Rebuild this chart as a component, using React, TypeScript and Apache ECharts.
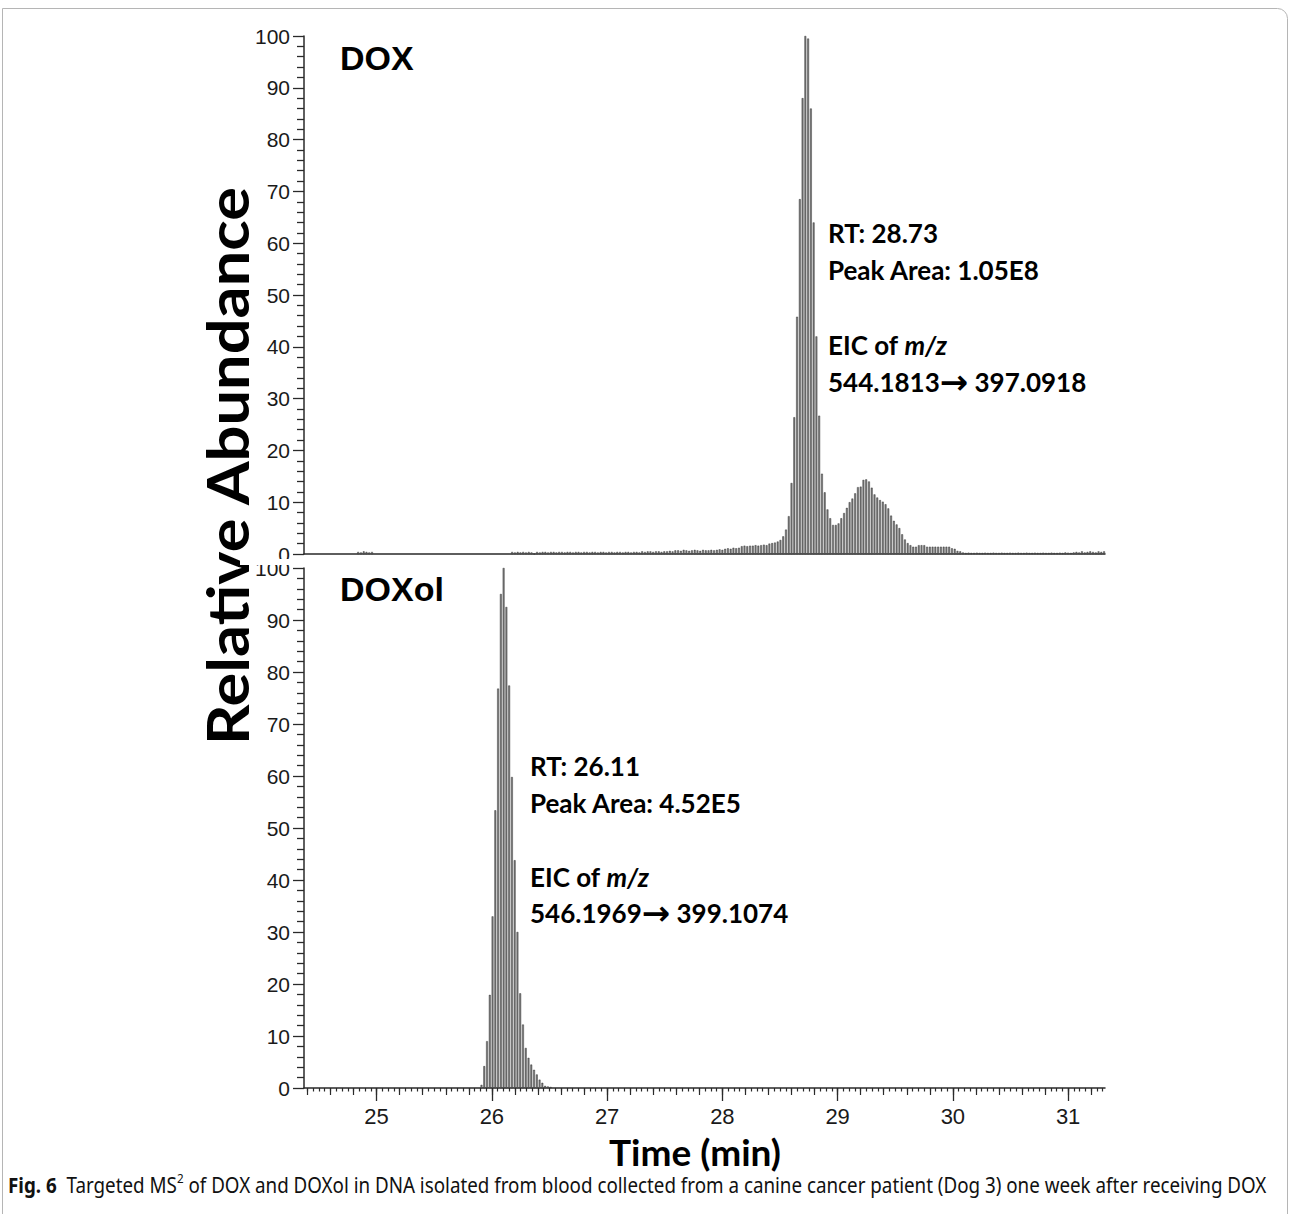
import React, { useEffect, useRef } from "react";
import * as echarts from "echarts";

// Scan interval of the chromatogram (min)
const SCAN_STEP = 0.024;

// DOX panel (top): small early cluster and main trace
const doxPreStart = 24.84;
const doxPreValues = [0.4, 0.3, 0.5, 0.4, 0.3, 0.4];
const doxStart = 26.176;
const doxValues = [
  0.4, 0.3, 0.4, 0.3, 0.4, 0.3, 0.4, 0.3,
  0,
  0.4, 0.3, 0.4, 0.4, 0.3, 0.4, 0.4, 0.3, 0.4, 0.4,
  0.3, 0.4, 0.4, 0.3, 0.4, 0.4, 0.3, 0.4, 0.4, 0.3,
  0.4, 0.4, 0.3, 0.4, 0.4, 0.3, 0.4, 0.4, 0.3, 0.4,
  0.4, 0.3, 0.4, 0.4, 0.3, 0.4, 0.4, 0.3,
  0.5, 0.4, 0.5, 0.5, 0.4, 0.5, 0.5, 0.4, 0.5, 0.5, 0.6, 0.5,
  0.7, 0.7, 0.6, 0.8, 0.7, 0.6, 0.7, 0.8, 0.7, 0.6, 0.8, 0.7, 0.7, 0.8, 0.7, 0.8, 0.9, 0.8,
  1.0, 1.1, 1.0, 1.2, 1.1, 1.2,
  1.5, 1.6, 1.5, 1.6, 1.6, 1.7, 1.6, 1.7, 1.8, 1.7,
  2.0, 2.1, 2.2, 2.4, 2.7,
  3.4, 4.7, 7.3, 13.7, 26.4, 45.8, 68.5, 88, 100, 99.5,
  86, 64, 42, 26.7, 15.5, 11.9, 8.6, 6.9, 5.6, 5.6,
  5.9, 6.9, 7.9, 8.9, 10, 10.7, 11.7, 12.9, 13, 14.3,
  14.4, 14, 12.8, 11.5, 10.9, 10.4, 10.1, 9.6, 8.8, 7.4,
  6.4, 5.7, 5, 3.8, 2.8, 2.1, 1.7, 1.4, 1.4, 1.7,
  1.7, 1.7, 1.4, 1.4, 1.4, 1.4, 1.4, 1.4, 1.4, 1.4,
  1.4, 1.1, 1.0, 0.6, 0.5, 0.3,
  0.2, 0.25, 0.2, 0.2, 0.25, 0.2, 0.2, 0.25, 0.2, 0.2,
  0.25, 0.2, 0.2, 0.25, 0.2, 0.2, 0.25, 0.2, 0.2, 0.25,
  0.2, 0.2, 0.25, 0.2, 0.2, 0.25, 0.2, 0.2, 0.25, 0.2,
  0.2, 0.25, 0.2, 0.2, 0.25, 0.2, 0.3, 0.25, 0.2, 0.3,
  0.4, 0.3, 0.5, 0.3, 0.4, 0.5, 0.4, 0.3, 0.5, 0.4, 0.5,
];

// DOXol panel (bottom)
const doxolStart = 25.91;
const doxolValues = [
  0.6, 4.2, 9, 17.9, 33, 53.4, 76.8, 95, 100, 92.5,
  77.4, 59.8, 43.8, 30, 18.2, 12.2, 7.7, 5.8, 4.5, 3.5,
  2.6, 1.6, 1.0, 0.4, 0.3, 0.2,
];

const xMin = 24.37;
const xMax = 31.32;
const xMajorTicks = [25, 26, 27, 28, 29, 30, 31];
const yMin = 0;
const yMax = 100;
const yInterval = 10;

const doxAnnotation = ["RT: 28.73", "Peak Area: 1.05E8", "EIC of {i|m/z}", "544.1813{a|→} 397.0918"];
const doxolAnnotation = ["RT: 26.11", "Peak Area: 4.52E5", "EIC of {i|m/z}", "546.1969{a|→} 399.1074"];

const r3 = (v: number) => Math.round(v * 1000) / 1000;
const toPoints = (start: number, vals: number[]) => vals.map((v, i) => [r3(start + i * SCAN_STEP), v]);

function tickRange(from: number, to: number, step: number) {
  const out: number[] = [];
  const n = Math.round((to - from) / step);
  for (let i = 0; i <= n; i++) out.push(r3(from + i * step));
  return out;
}
const xMediumTicks = tickRange(24.4, 31.2, 0.2);
const xMinorTicks = tickRange(24.4, 31.3, 0.05);

const AXIS_COLOR = "#2a2a2a";
const LABEL_FONT = "Liberation Sans";
const ANNOT_FONT = "Lato";

export default function App() {
  const ref = useRef<HTMLDivElement>(null);
  useEffect(() => {
    document.body.style.margin = "0";
    if (!ref.current) return;
    const chart = echarts.init(ref.current, undefined, { renderer: "svg" });

    const yAxisBase = (gridIndex: number) => ({
      type: "value",
      gridIndex,
      position: "left",
      min: yMin,
      max: yMax,
      interval: yInterval,
      axisLine: { show: true, onZero: false, lineStyle: { color: AXIS_COLOR, width: 1.5 } },
      axisTick: { show: true, length: 11, lineStyle: { color: AXIS_COLOR, width: 1.3 } },
      minorTick: { show: true, splitNumber: 5, length: 7, lineStyle: { color: AXIS_COLOR, width: 1.3 } },
      axisLabel: { fontSize: 21, lineHeight: 13, fontFamily: LABEL_FONT, color: "#1a1a1a", margin: 14 },
      splitLine: { show: false },
      minorSplitLine: { show: false },
    });

    const xHidden = (gridIndex: number, ticks: number[], len: number) => ({
      type: "value",
      gridIndex,
      position: "bottom",
      offset: 0,
      min: xMin,
      max: xMax,
      axisLine: { show: false, onZero: false },
      axisTick: { show: true, length: len, customValues: ticks, lineStyle: { color: AXIS_COLOR, width: 1.2 } },
      axisLabel: { show: false },
      splitLine: { show: false },
    });

    const annotGraphics = (lines: string[], x: number, ys: number[]) =>
      lines.map((t, k) => ({
        type: "text",
        x,
        y: ys[k],
        z: 10,
        style: {
          text: t,
          fontSize: 26,
          fontFamily: ANNOT_FONT,
          fontWeight: "bold",
          fill: "#000",
          verticalAlign: "middle",
          textVerticalAlign: "middle",
          rich: {
            i: { fontSize: 26, fontFamily: ANNOT_FONT, fontWeight: "bold", fontStyle: "italic", fill: "#000" },
            a: { fontSize: 34, fontFamily: "DejaVu Sans", fontWeight: "bold", fill: "#000" },
          },
        },
      }));

    const option: any = {
      animation: false,
      backgroundColor: "#fff",
      grid: [
        { left: 304, top: 36, width: 801, height: 518 },
        { left: 304, top: 568, width: 801, height: 520 },
      ],
      xAxis: [
        {
          type: "value",
          gridIndex: 0,
          position: "bottom",
          min: xMin,
          max: xMax,
          axisLine: { show: true, onZero: false, lineStyle: { color: AXIS_COLOR, width: 1.5 } },
          axisTick: { show: false },
          axisLabel: { show: false },
          splitLine: { show: false },
        },
        {
          type: "value",
          gridIndex: 1,
          position: "bottom",
          min: xMin,
          max: xMax,
          axisLine: { show: true, onZero: false, lineStyle: { color: AXIS_COLOR, width: 1.5 } },
          axisTick: { show: true, length: 13, customValues: xMajorTicks, lineStyle: { color: AXIS_COLOR, width: 1.3 } },
          axisLabel: {
            customValues: xMajorTicks,
            fontSize: 22,
            lineHeight: 18,
            fontFamily: LABEL_FONT,
            color: "#1a1a1a",
            margin: 19,
          },
          splitLine: { show: false },
        },
        xHidden(1, xMediumTicks, 7),
        xHidden(1, xMinorTicks, 3.5),
      ],
      yAxis: [yAxisBase(0), yAxisBase(1)],
      series: [
        {
          type: "bar",
          xAxisIndex: 0,
          yAxisIndex: 0,
          barWidth: 1.8,
          data: [...toPoints(doxPreStart, doxPreValues), ...toPoints(doxStart, doxValues)],
          itemStyle: { color: "#7c7c7c", borderColor: "#222", borderWidth: 0.4 },
        },
        {
          type: "bar",
          xAxisIndex: 1,
          yAxisIndex: 1,
          barWidth: 1.8,
          data: toPoints(doxolStart, doxolValues),
          itemStyle: { color: "#7c7c7c", borderColor: "#222", borderWidth: 0.4 },
        },
      ],
      graphic: [
        {
          type: "rect",
          z: -1,
          shape: { x: 2.5, y: 8.5, width: 1285, height: 1300, r: [0, 10, 0, 0] },
          style: { fill: "none", stroke: "#b5b5b5", lineWidth: 1 },
        },
        {
          type: "rect",
          z: 20,
          shape: { x: 240, y: 559, width: 58, height: 6 },
          style: { fill: "#fff" },
        },
        {
          type: "text",
          x: 340,
          y: 58,
          style: { text: "DOX", fontSize: 34, fontFamily: LABEL_FONT, fontWeight: "bold", fill: "#000", verticalAlign: "middle", textVerticalAlign: "middle" },
        },
        {
          type: "text",
          x: 340,
          y: 589,
          style: { text: "DOXol", fontSize: 34, fontFamily: LABEL_FONT, fontWeight: "bold", fill: "#000", verticalAlign: "middle", textVerticalAlign: "middle" },
        },
        ...annotGraphics(doxAnnotation, 828, [233, 270, 345, 382]),
        ...annotGraphics(doxolAnnotation, 530, [766, 803, 877, 913]),
        {
          type: "text",
          x: 227,
          y: 466,
          rotation: Math.PI / 2,
          scaleX: 1.09,
          style: {
            text: "Relative Abundance",
            fontSize: 58,
            fontFamily: ANNOT_FONT,
            fontWeight: "bold",
            fill: "#000",
            align: "center",
            textAlign: "center",
            verticalAlign: "middle",
            textVerticalAlign: "middle",
          },
        },
        {
          type: "text",
          x: 695,
          y: 1151,
          style: {
            text: "Time (min)",
            fontSize: 37,
            lineHeight: 32,
            fontFamily: ANNOT_FONT,
            fontWeight: "bold",
            fill: "#000",
            align: "center",
            textAlign: "center",
            verticalAlign: "middle",
            textVerticalAlign: "middle",
          },
        },
        {
          type: "text",
          x: 8,
          y: 1185,
          scaleX: 0.895,
          style: {
            text: "{b|Fig. 6}  Targeted MS{s|2} of DOX and DOXol in DNA isolated from blood collected from a canine cancer patient (Dog 3) one week after receiving DOX",
            fontSize: 21,
            fontFamily: "Noto Sans",
            fill: "#111",
            verticalAlign: "middle",
            textVerticalAlign: "middle",
            rich: {
              b: { fontSize: 21, fontFamily: "Noto Sans", fontWeight: "bold", fill: "#111", lineHeight: 26 },
              s: { fontSize: 13, fontFamily: "Noto Sans", fill: "#111", verticalAlign: "top", lineHeight: 26 },
            },
          },
        },
      ],
    };

    chart.setOption(option);
    return () => chart.dispose();
  }, []);
  return <div ref={ref} style={{ width: 1295, height: 1214 }} />;
}
